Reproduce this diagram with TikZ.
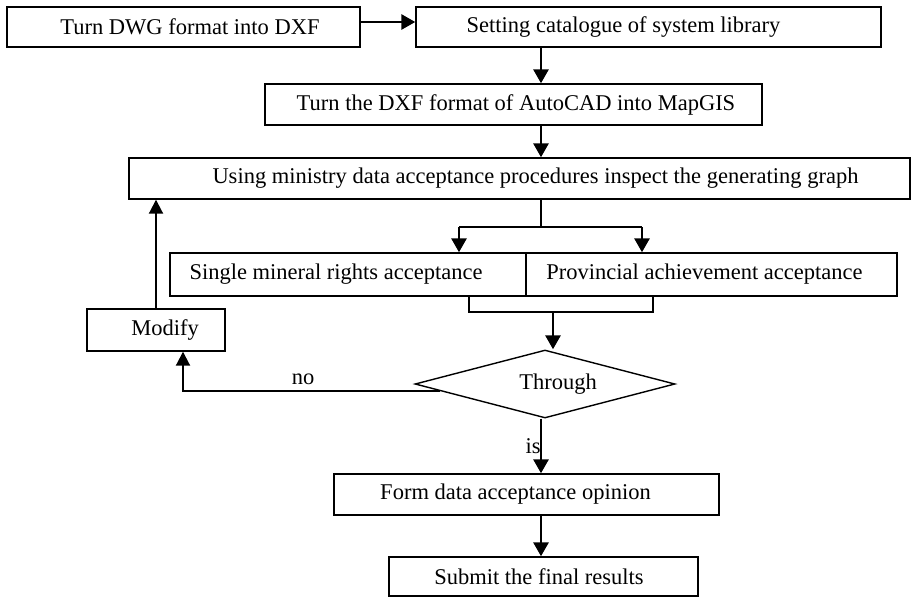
\documentclass[tikz,border=0pt]{standalone}
\usepackage{fontspec}
\setmainfont{Liberation Serif}
\usetikzlibrary{shapes.geometric,arrows.meta,calc}
\newcommand{\tshift}[1]{\hspace*{#1}}
\begin{document}
\begin{tikzpicture}[x=1pt,y=-1pt,
  every node/.style={font=\fontsize{22.5}{27}\selectfont},
  box/.style={draw,line width=1.4pt,inner sep=0pt,minimum height=41pt},
  flow/.style={line width=2.9pt,-{Triangle[length=14pt,width=15pt]}},
  link/.style={line width=2.9pt},
  back/.style={line width=2pt,-{Triangle[length=14pt,width=14pt]}}]
\useasboundingbox (0,0) rectangle (912,598);
\node[box,minimum width=353pt,minimum height=40pt] (b1) at (183.5,27) {\tshift{13pt}Turn DWG format into DXF};
\node[box,minimum width=465pt,minimum height=40pt] (b2) at (648.5,27) {\tshift{-50pt}Setting catalogue of system library};
\node[box,minimum width=497pt] (b3) at (513.5,104.5) {\tshift{5pt}Turn the DXF format of AutoCAD into MapGIS};
\node[box,minimum width=781pt] (b4) at (519.5,178.5) {\tshift{32pt}Using ministry data acceptance procedures inspect the generating graph};
\node[box,minimum width=356pt,minimum height=43pt] (b5a) at (348,274.5) {\tshift{-24pt}Single mineral rights acceptance};
\node[box,minimum width=371pt,minimum height=43pt] (b5b) at (711.5,274.5) {\tshift{-14pt}Provincial achievement acceptance};
\node[box,minimum width=138pt,minimum height=42pt] (m) at (156,330) {\tshift{18pt}Modify};
\node[diamond,draw,line width=1.4pt,inner sep=0pt,aspect=3.8,minimum width=260pt,minimum height=68pt] (d) at (545,384) {\tshift{26pt}Through};
\node[box,minimum width=385pt] (f) at (526.5,494.5) {\tshift{-22pt}Form data acceptance opinion};
\node[box,minimum width=309pt,minimum height=39pt] (s) at (543.5,576.5) {\tshift{-9pt}Submit the final results};
\coordinate (cx) at (541,0);
\coordinate (split) at (541,227);
\coordinate (sl) at (459,227);
\coordinate (sr) at (642,227);
\coordinate (jl) at (469,312);
\coordinate (jr) at (653,312);
\coordinate (j) at (553,312);
\coordinate (mx) at (183,0);
\coordinate (b1a) at ([yshift=5pt]b1.east);
\coordinate (dn) at ($(d.west)!0.2!(d.south)$);
\coordinate (dx) at (541,0);
\node (no) at (303,379) {no};
\node (is) at (533,446) {is};
\draw[flow] (b1a) -- (b1a -| b2.west);
\draw[flow] (b2.south -| cx) -- (b3.north -| cx);
\draw[flow] (b3.south -| cx) -- (b4.north -| cx);
\draw[link] (b4.south -| cx) -- (split);
\draw[link] (sl) -- (sr);
\draw[flow] (sl) -- (sl |- b5a.north);
\draw[flow] (sr) -- (sr |- b5b.north);
\draw[link] (b5a.south -| jl) -- (jl) -- (jr) -- (b5b.south -| jr);
\draw[flow] (j) -- (j |- d.north);
\draw[back] (dn) -| (m.south -| mx);
\draw[back] (m.north) -- (m.north |- b4.south);
\draw[flow] (d.south -| dx) -- (f.north -| dx);
\draw[flow] (f.south -| cx) -- (s.north -| cx);
\end{tikzpicture}
\end{document}
